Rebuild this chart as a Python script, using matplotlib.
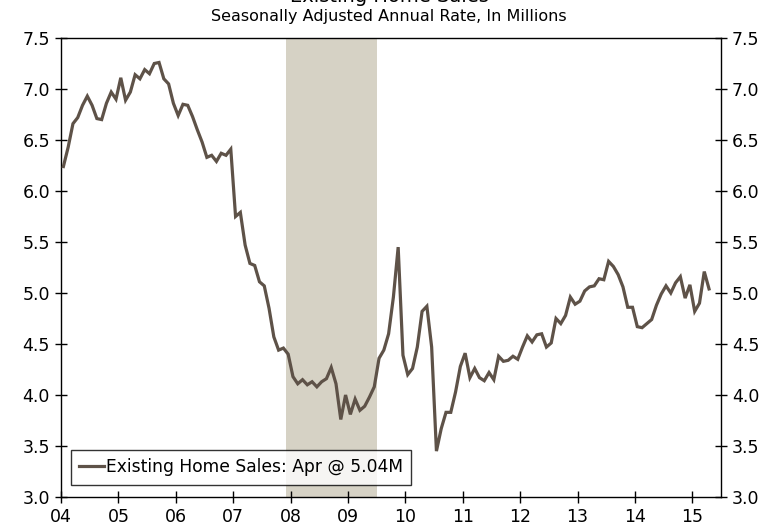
import matplotlib
matplotlib.use("Agg")
import matplotlib.pyplot as plt
import numpy as np

# Existing home sales, SAAR, millions (Jan 2004 - Apr 2015)
sales_2004 = [6.24, 6.43, 6.66, 6.72, 6.84, 6.93, 6.84, 6.71, 6.70, 6.86, 6.97, 6.90]
sales_2005 = [7.11, 6.89, 6.97, 7.14, 7.10, 7.19, 7.15, 7.25, 7.26, 7.10, 7.05, 6.86]
sales_2006 = [6.74, 6.85, 6.84, 6.73, 6.60, 6.48, 6.33, 6.35, 6.29, 6.37, 6.35, 6.41]
sales_2007 = [5.75, 5.79, 5.47, 5.29, 5.27, 5.11, 5.07, 4.85, 4.57, 4.44, 4.46, 4.40]
sales_2008 = [4.18, 4.11, 4.15, 4.10, 4.13, 4.08, 4.13, 4.16, 4.27, 4.11, 3.76, 4.00]
sales_2009 = [3.81, 3.96, 3.85, 3.89, 3.98, 4.08, 4.36, 4.44, 4.60, 4.96, 5.45, 4.39]
sales_2010 = [4.20, 4.26, 4.47, 4.82, 4.87, 4.47, 3.45, 3.67, 3.83, 3.83, 4.03, 4.28]
sales_2011 = [4.41, 4.17, 4.26, 4.17, 4.14, 4.22, 4.15, 4.38, 4.33, 4.34, 4.38, 4.35]
sales_2012 = [4.47, 4.58, 4.52, 4.59, 4.60, 4.47, 4.51, 4.75, 4.70, 4.78, 4.96, 4.89]
sales_2013 = [4.92, 5.02, 5.06, 5.07, 5.14, 5.13, 5.31, 5.26, 5.18, 5.06, 4.86, 4.86]
sales_2014 = [4.67, 4.66, 4.70, 4.74, 4.88, 4.99, 5.07, 5.00, 5.10, 5.16, 4.95, 5.08]
sales_2015 = [4.82, 4.90, 5.21, 5.04]

sales = (sales_2004 + sales_2005 + sales_2006 + sales_2007 + sales_2008 + sales_2009
         + sales_2010 + sales_2011 + sales_2012 + sales_2013 + sales_2014 + sales_2015)
start_year = 2004
dates = [start_year + (i + 0.5) / 12 for i in range(len(sales))]

recession_start = 2007 + 11 / 12
recession_end = 2009.5

year_ticks = list(range(2004, 2016))
year_labels = ["04", "05", "06", "07", "08", "09", "10", "11", "12", "13", "14", "15"]
y_ticks = [3.0, 3.5, 4.0, 4.5, 5.0, 5.5, 6.0, 6.5, 7.0, 7.5]

title = "Existing Home Sales"
subtitle = "Seasonally Adjusted Annual Rate, In Millions"
legend_label = "Existing Home Sales: Apr @ 5.04M"

line_color = "#5e5248"
shade_color = "#d6d2c5"

plt.rcParams['font.family'] = ['DejaVu Sans']

fig = plt.figure(figsize=(7.78, 5.27), dpi=100)
ax = fig.add_axes([61 / 778, 30 / 527, 660 / 778, 459 / 527])

ax.axvspan(recession_start, recession_end, color=shade_color, lw=0, zorder=0)
ax.plot(dates, sales, color=line_color, lw=2.3, label=legend_label, zorder=3,
        solid_joinstyle='miter')

ax.set_xlim(2004, 2015.5)
ax.set_ylim(3.0, 7.5)
ax.set_xticks(year_ticks)
ax.set_xticklabels(year_labels)
ax.set_yticks(y_ticks)
ax.set_yticklabels([f"{v:.1f}" for v in y_ticks])

ax.tick_params(axis='both', direction='inout', length=8, width=1, color='black',
               labelsize=12.5, labelcolor='black')
ax.tick_params(axis='x', pad=4)
ax.tick_params(axis='y', pad=4)
ax.tick_params(axis='y', which='both', right=True, labelright=True)

for sp in ax.spines.values():
    sp.set_color('black')
    sp.set_linewidth(1)

leg = ax.legend(loc='lower left', bbox_to_anchor=(0.007, 0.015), frameon=True,
                fancybox=False, edgecolor='black', fontsize=12.3,
                handlelength=1.45, handletextpad=0.1, borderpad=0.5,
                borderaxespad=0.3)
leg.get_frame().set_linewidth(1)

fig.text(0.5, 1 - 1.5 / 527, title, ha='center', va='baseline', fontsize=14)
fig.text(0.5, 1 - 17 / 527, subtitle, ha='center', va='center', fontsize=11.5)

fig.savefig("out.png", dpi=100)
